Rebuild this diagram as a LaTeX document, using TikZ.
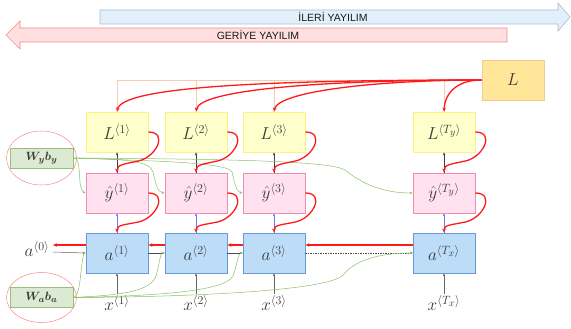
\documentclass[tikz,border=0pt]{standalone}
\usepackage{amsmath}
\usepackage{bm}
\usepackage{fontspec}
\newfontfamily\bannerfont{Liberation Sans}
\usetikzlibrary{arrows.meta,calc}
\DeclareMathSizes{16}{16}{12.5}{10}
\DeclareMathSizes{12}{12}{9}{7}

\definecolor{lossfill}{HTML}{FFE699}
\definecolor{lossdraw}{HTML}{F6CB8E}
\definecolor{lfill}{HTML}{FFFFCC}
\definecolor{ldraw}{HTML}{FFF27A}
\definecolor{yfill}{HTML}{FFE1EF}
\definecolor{ydraw}{HTML}{F28BB0}
\definecolor{afill}{HTML}{BDDCF7}
\definecolor{adraw}{HTML}{6A9AD4}
\definecolor{wfill}{HTML}{DCEAD3}
\definecolor{wdraw}{HTML}{98C07A}
\definecolor{fwdfill}{HTML}{E1F0FA}
\definecolor{fwddraw}{HTML}{A8BCD0}
\definecolor{bwdfill}{HTML}{FFDFDF}
\definecolor{bwddraw}{HTML}{F28C8C}
\definecolor{gradred}{HTML}{FF1A1A}
\definecolor{paramgreen}{HTML}{8CBF6A}
\definecolor{busorange}{HTML}{F8CBAD}
\definecolor{txt}{HTML}{3A3A3A}

\tikzset{
  cell/.style={draw, line width=0.8pt, minimum width=62pt, minimum height=40pt,
    inner sep=0pt, font=\fontsize{16}{19}\selectfont, text=txt},
  lossbox/.style={cell, fill=lfill, draw=ldraw},
  totalbox/.style={cell, fill=lossfill, draw=lossdraw},
  predbox/.style={cell, fill=yfill, draw=ydraw},
  statebox/.style={cell, fill=afill, draw=adraw},
  parambox/.style={draw=wdraw, fill=wfill, line width=0.8pt, minimum width=63pt,
    minimum height=20pt, inner sep=0pt, text=txt, font=\fontsize{12}{14}\selectfont},
  grad/.style={draw=gradred, line width=1.3pt, -{Stealth[length=4pt,width=3.6pt]}},
  thin/.style={line width=0.5pt, -{Stealth[length=3pt,width=2.5pt]}},
  param/.style={draw=paramgreen, line width=0.5pt, -{Stealth[length=3pt,width=2.5pt]}},
  ring/.style={draw=bwddraw, line width=0.5pt},
  bus/.style={draw=busorange, line width=0.6pt},
  inlabel/.style={font=\fontsize{16}{19}\selectfont, text=txt, inner sep=1pt},
  banner/.style={font=\bannerfont\fontsize{10.5}{12}\selectfont, text=black!90},
}

\begin{document}
\begin{tikzpicture}[x=1pt,y=-1pt]
\useasboundingbox (0,0) rectangle (571,329);

% propagation banners
\draw[draw=fwddraw, fill=fwdfill, line width=0.6pt]
  (100,10) -- (558,10) -- (558,3) -- (570,17) -- (558,31) -- (558,24) -- (100,24) -- cycle;
\node[banner] (fwdtxt) at (333,17) {İLERİ YAYILIM};
\draw[draw=bwddraw, fill=bwdfill, line width=0.6pt]
  (507,28) -- (20,28) -- (20,21) -- (6,35) -- (20,49) -- (20,42) -- (507,42) -- cycle;
\node[banner] (bwdtxt) at (258,35) {GERİYE YAYILIM};

% cells
\node[totalbox] (LB) at (513,80) {$L$};
\foreach \c/\x/\s in {1/117/1, 2/196/2, 3/274/3} {
  \node[lossbox]  (L\c) at (\x,132) {$L^{\langle \s\rangle}$};
  \node[predbox]  (Y\c) at (\x,193) {$\hat{y}^{\langle \s\rangle}$};
  \node[statebox] (A\c) at (\x,253) {$a^{\langle \s\rangle}$};
  \node[inlabel]  (X\c) at (\x,303) {$x^{\langle \s\rangle}$};
}
\node[lossbox]  (LT) at (444,132) {$L^{\langle T_y\rangle}$};
\node[predbox]  (YT) at (444,193) {$\hat{y}^{\langle T_y\rangle}$};
\node[statebox] (AT) at (444,253) {$a^{\langle T_x\rangle}$};
\node[inlabel]  (XT) at (444,303) {$x^{\langle T_x\rangle}$};

\node[inlabel] (a0) at (37,249) {$a^{\langle 0\rangle}$};
\coordinate (a0out) at (53,245);
\coordinate (a0in) at (53,252);

% shared parameters
\node[parambox] (Wy) at (41.5,158) {$\bm{W_y b_y}$};
\node[parambox] (Wa) at (41.5,297.5) {$\bm{W_a b_a}$};
\draw[ring] (Wy) ellipse [x radius=35, y radius=27];
\draw[ring] (Wa) ellipse [x radius=35, y radius=25];

% loss bus
\draw[bus] (LB.west) -- (LB.west -| L1.north);
\foreach \c in {1,2,3,T}
  \draw[bus] (L\c.north |- LB.west) -- (L\c.north);

% forward arrows
\foreach \c in {1,2,3,T} {
  \draw[thin, draw=black!75] (Y\c.north) -- (L\c.south);
  \draw[thin, draw=blue!55] (A\c.north) -- (Y\c.south);
  \draw[thin, draw=black!60] (X\c.north) -- (A\c.south);
}
\draw[thin, draw=black!60] (a0in) -- (A1.west);
\draw[thin, draw=black!70] (A1.east) -- (A2.west);
\draw[thin, draw=black!70] (A2.east) -- (A3.west);
\draw[thin, draw=black!70, dash pattern=on 1.5pt off 1pt] (A3.east) -- (AT.west);

% parameter sharing
\draw[param] (Wy.east) .. controls (80,158) and (79,172) .. (80,182) .. controls (81,190) and (83,192) .. (Y1.west);
\draw[param] (Wy.east) .. controls (120,159) and (150,160) .. (153,172) .. controls (156,186) and (158,192) .. (Y2.west);
\draw[param] (Wy.east) .. controls (150,161) and (228,162) .. (232,172) .. controls (235,186) and (237,192) .. (Y3.west);
\draw[param] (Wy.east) .. controls (200,159) and (330,160) .. (345,170) .. controls (360,182) and (380,193) .. (YT.west);

\draw[param] (Wa.east) .. controls (80,296) and (80,276) .. (82,264) .. controls (83,256) and (84,253) .. (A1.west);
\draw[param] (Wa.east) .. controls (120,295) and (150,292) .. (156,276) .. controls (160,262) and (160,253) .. (A2.west);
\draw[param] (Wa.east) .. controls (150,296) and (225,292) .. (233,276) .. controls (238,262) and (238,253) .. (A3.west);
\draw[param] (Wa.east) .. controls (200,297) and (330,290) .. (343,275) .. controls (355,260) and (380,253) .. (AT.west);

% backpropagation
\draw[grad] (LB.west) .. controls (250,80) and (122,88) .. (L1.north);
\draw[grad] (LB.west) .. controls (320,80) and (200,90) .. (L2.north);
\draw[grad] (LB.west) .. controls (380,80) and (278,91) .. (L3.north);
\draw[grad] (LB.west) .. controls (458,80) and (445,92) .. (LT.north);

\foreach \c in {1,2,3,T} {
  \draw[grad] (L\c.east) .. controls +(20,0) and +(18,-4) .. ($(L\c.east)+(-10,29)$)
              .. controls +(-14,3) and +(0,-8) .. (Y\c.north);
  \draw[grad] (Y\c.east) .. controls +(20,0) and +(18,-4) .. ($(Y\c.east)+(-10,29)$)
              .. controls +(-14,3) and +(0,-8) .. (A\c.north);
}

\draw[grad] ($(AT.west)+(0,-8)$) -- ($(A3.east)+(0,-8)$);
\draw[grad] ($(A3.west)+(0,-8)$) -- ($(A2.east)+(0,-8)$);
\draw[grad] ($(A2.west)+(0,-8)$) -- ($(A1.east)+(0,-8)$);
\draw[grad] ($(A1.west)+(0,-8)$) -- (a0out);
\end{tikzpicture}
\end{document}
